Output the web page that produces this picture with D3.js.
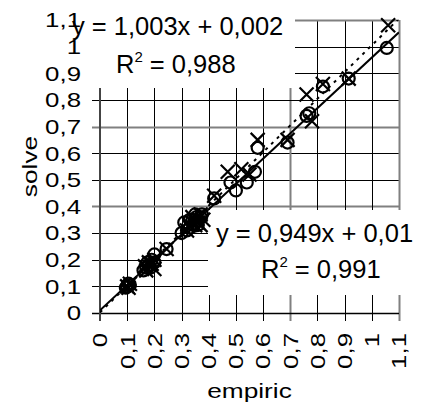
<!DOCTYPE html>
<html><head><meta charset="utf-8">
<script src="https://cdn.jsdelivr.net/npm/d3@7"></script>
<style>
html,body{margin:0;padding:0;background:#fff;}
svg{display:block;}
text{font-family:"Liberation Sans",Arial,sans-serif;fill:#000;}
</style></head>
<body>
<svg id="chart" width="429" height="405"></svg>
<script>
// ---- data ----
const tickValues = [0,0.1,0.2,0.3,0.4,0.5,0.6,0.7,0.8,0.9,1,1.1];
const tickLabels = ["0","0,1","0,2","0,3","0,4","0,5","0,6","0,7","0,8","0,9","1","1,1"];
// circles series (empiric, solve)
const circX = [0.095,0.10,0.11,0.105,0.16,0.17,0.175,0.18,0.185,0.19,0.20,0.20,0.245,0.30,0.31,0.32,0.33,0.33,0.34,0.345,0.355,0.36,0.36,0.37,0.35,0.375,0.42,0.48,0.50,0.54,0.57,0.58,0.69,0.76,0.77,0.82,0.915,1.055];
const circY = [0.095,0.10,0.105,0.11,0.16,0.17,0.19,0.18,0.17,0.20,0.22,0.19,0.24,0.30,0.34,0.31,0.32,0.35,0.35,0.33,0.36,0.33,0.345,0.36,0.37,0.37,0.43,0.49,0.46,0.49,0.53,0.62,0.64,0.74,0.75,0.85,0.88,0.995];
// crosses series (empiric, solve)
const crossX = [0.10,0.105,0.11,0.165,0.17,0.18,0.19,0.20,0.20,0.245,0.32,0.33,0.34,0.35,0.36,0.37,0.37,0.38,0.42,0.47,0.52,0.55,0.58,0.69,0.76,0.78,0.82,0.915,1.06];
const crossY = [0.10,0.095,0.11,0.175,0.16,0.19,0.185,0.20,0.165,0.24,0.31,0.33,0.36,0.33,0.34,0.37,0.33,0.35,0.44,0.53,0.54,0.52,0.65,0.65,0.82,0.72,0.86,0.88,1.08];
// trendlines
const fitSlope = [0.949, 1.003];
const fitIntercept = [0.01, 0.002];
const fitEq = ["y = 0,949x + 0,01", "y = 1,003x + 0,002"];
const fitR2 = ["0,991", "0,988"];
const axisTitles = ["empiric", "solve"];

// ---- layout ----
const svg = d3.select("#chart");
const L = 100, R = 399, T = 20, B = 313;
const x = d3.scaleLinear().domain([0,1.1]).range([L,R]);
const y = d3.scaleLinear().domain([0,1.1]).range([B,T]);
const SX = 1.23;

// gridlines
const grid = svg.append("g");
tickValues.forEach((v,i) => {
  const gx = Math.round(x(v)) + 0.5, gy = Math.round(y(v)) + 0.5;
  if (i > 0) {
    const gray = (i === 7) || (i === 11);
    grid.append("line").attr("x1", gx).attr("x2", gx).attr("y1", T).attr("y2", B + 8)
      .attr("stroke", gray ? "#808080" : "#000").attr("stroke-width", gray ? 2 : 1);
  }
  if (i > 0) {
    const gray = (i === 4) || (i === 7) || (i === 11);
    grid.append("line").attr("x1", L - 8).attr("x2", R).attr("y1", gy).attr("y2", gy)
      .attr("stroke", gray ? "#808080" : "#000").attr("stroke-width", gray ? 2 : 1);
  }
});
// axes lines
svg.append("line").attr("x1", L - 8).attr("x2", R).attr("y1", B + 0.5).attr("y2", B + 0.5)
  .attr("stroke", "#000").attr("stroke-width", 1.5);
svg.append("line").attr("x1", L).attr("x2", L).attr("y1", T).attr("y2", B + 8)
  .attr("stroke", "#444").attr("stroke-width", 2);

// white label boxes
svg.append("rect").attr("x", 88).attr("y", 0).attr("width", 295 - 88).attr("height", 88).attr("fill", "#fff");
svg.append("rect").attr("x", 208).attr("y", 210).attr("width", 405 - 208).attr("height", 85).attr("fill", "#fff");

// tick labels
const yl = svg.append("g");
tickValues.forEach((v,i) => {
  yl.append("text").attr("transform", `translate(81,${y(v)}) scale(${SX},1)`)
    .attr("text-anchor", "end").attr("dy", "0.35em").attr("font-size", 21).text(tickLabels[i]);
  yl.append("text").attr("transform", `translate(${x(v)},333) rotate(-90) scale(${SX},1)`)
    .attr("text-anchor", "end").attr("dy", "0.35em").attr("font-size", 21).text(tickLabels[i]);
});

// axis titles
svg.append("text").attr("transform", `translate(${(L+R)/2},398) scale(1.25,1)`)
  .attr("text-anchor", "middle").attr("font-size", 21).text(axisTitles[0]);
svg.append("text").attr("transform", `translate(37,${(T+B)/2}) rotate(-90) scale(1.25,1)`)
  .attr("text-anchor", "middle").attr("font-size", 21).text(axisTitles[1]);

// clip
svg.append("clipPath").attr("id", "plotclip").append("rect")
  .attr("x", L).attr("y", T).attr("width", R - L).attr("height", B - T);

// trendlines
const lineG = svg.append("g").attr("clip-path", "url(#plotclip)");
const dom = [0, 1.1];
lineG.append("line")
  .attr("x1", x(dom[0])).attr("y1", y(fitSlope[0]*dom[0] + fitIntercept[0]))
  .attr("x2", x(dom[1])).attr("y2", y(fitSlope[0]*dom[1] + fitIntercept[0]))
  .attr("stroke", "#000").attr("stroke-width", 2);
lineG.append("line")
  .attr("x1", x(dom[0])).attr("y1", y(fitSlope[1]*dom[0] + fitIntercept[1]))
  .attr("x2", x(dom[1])).attr("y2", y(fitSlope[1]*dom[1] + fitIntercept[1]))
  .attr("stroke", "#000").attr("stroke-width", 2).attr("stroke-dasharray", "3,5");

// markers
const mk = svg.append("g");
circX.forEach((cx,i) => {
  mk.append("circle").attr("cx", x(cx)).attr("cy", y(circY[i])).attr("r", 6)
    .attr("fill", "none").attr("stroke", "#000").attr("stroke-width", 2.2);
});
const h = 7;
crossX.forEach((cx,i) => {
  const px = x(cx), py = y(crossY[i]);
  mk.append("path").attr("d", `M${px-h},${py-h}L${px+h},${py+h}M${px-h},${py+h}L${px+h},${py-h}`)
    .attr("stroke", "#000").attr("stroke-width", 2.2).attr("fill", "none");
});

// equations
function eq(x0, yb, x1, yb2, eqText, r2) {
  svg.append("text").attr("x", x0).attr("y", yb).attr("font-size", 25.5).text(eqText);
  const t = svg.append("text").attr("x", x1).attr("y", yb2).attr("font-size", 25.5);
  t.append("tspan").text("R");
  t.append("tspan").attr("font-size", 15).attr("dy", -11).text("2");
  t.append("tspan").attr("dy", 11).text(" = " + r2);
}
eq(72, 35, 116, 73, fitEq[1], fitR2[1]);
eq(216, 242, 261, 278, fitEq[0], fitR2[0]);
</script>
</body></html>
